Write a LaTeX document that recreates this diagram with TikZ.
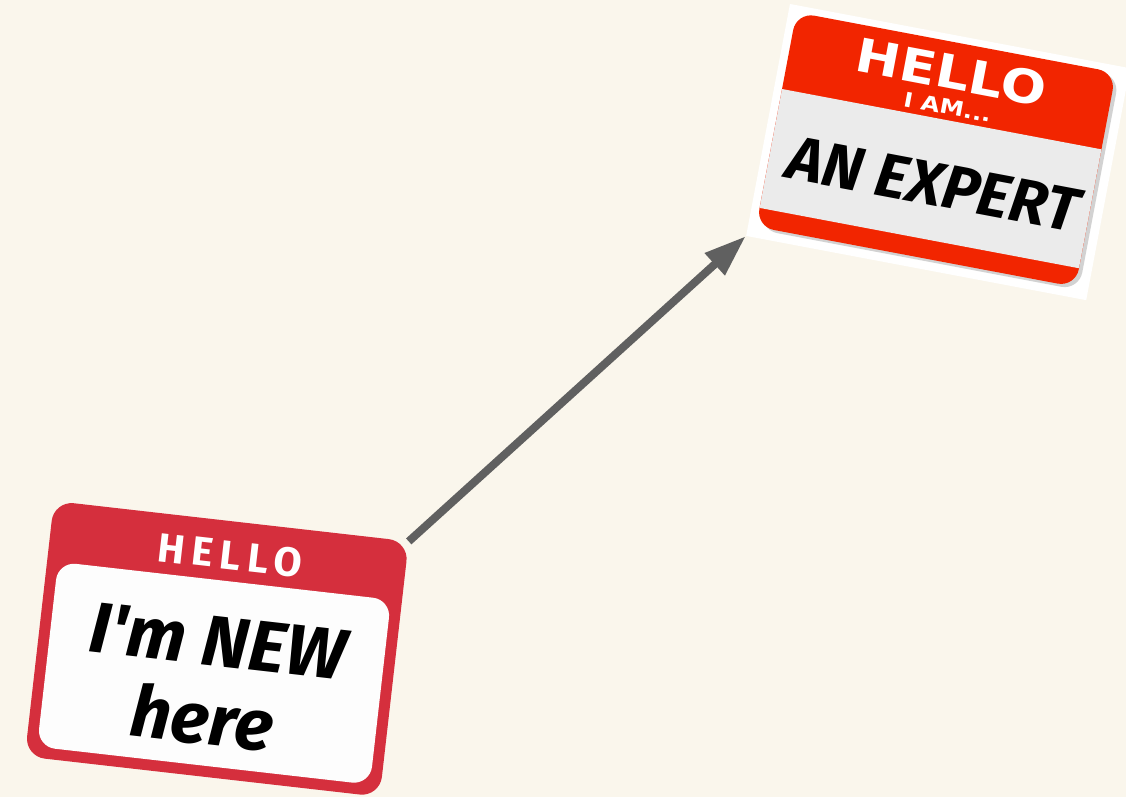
\documentclass[tikz,border=0pt]{standalone}
\usepackage{fontspec}
\usepackage{graphicx}
\usetikzlibrary{arrows.meta}
\newfontfamily\handfont{Fira Sans}
\newfontfamily\hellofont{Fira Sans}[LetterSpace=17]
\newfontfamily\blockfont{DejaVu Sans}
\definecolor{cream}{HTML}{FAF6EC}
\definecolor{newred}{HTML}{D52F3D}
\definecolor{expred}{HTML}{F22500}
\definecolor{tagwhite}{HTML}{FDFDFD}
\definecolor{taggray}{HTML}{EBEBEB}
\definecolor{slate}{HTML}{606060}
\pgfdeclarelayer{back}
\pgfsetlayers{back,main}
\tikzset{card/.style={rounded corners=0.5cm,inner sep=0,outer sep=0}, hand/.style={inner sep=0,font=\handfont\bfseries\itshape\fontsize{51}{51}\selectfont}, flow/.style={-{Triangle[length=1.05cm,width=0.7cm]},line width=0.2cm,draw=slate}}
\begin{document}
\begin{tikzpicture}[x=0.025cm,y=-0.025cm]
\useasboundingbox (0,0) rectangle (1126,797);
\begin{pgfonlayer}{back}\fill[cream] (0,0) rectangle (1126,797);\end{pgfonlayer}
\begin{scope}[shift={(54,501)},rotate=-6.5,transform shape]
\node[card,fill=newred,minimum width=8.925cm,minimum height=6.425cm] (new) at (178.5,128.5) {};
\node[card,rounded corners=0.45cm,fill=tagwhite,minimum width=8.375cm,minimum height=4.65cm] (newin) at (178.5,153) {};
\node[inner sep=0,text=white,font=\hellofont\bfseries\fontsize{29}{29}\selectfont] (newhello) at (181,34) {HELLO};
\node[hand] (newline1) at (179,121) {I'm NEW};
\node[hand] (newline2) at (172,198) {here};
\end{scope}
\begin{scope}[shift={(790,4)},rotate=-10.7,transform shape]
\node[fill=white,inner sep=0,minimum width=8.65cm,minimum height=5.9cm] (expbg) at (173,118) {};
\node[card,rounded corners=0.45cm,fill=black!35,opacity=.5,minimum width=8.125cm,minimum height=5.45cm] (expshadow) at (174.5,118.5) {};
\node[card,rounded corners=0.45cm,fill=expred,minimum width=8.125cm,minimum height=5.45cm] (exp) at (170.5,116) {};
\fill[taggray] (8,85) rectangle (333,206);
\node[inner sep=0,text=white,font=\blockfont\bfseries\fontsize{33}{33}\selectfont] (exphello) at (171,37) {\scalebox{1.15}[1]{HELLO}};
\node[inner sep=0,text=white,font=\blockfont\bfseries\fontsize{14.5}{14.5}\selectfont] (expiam) at (174,72) {\scalebox{1.2}[1]{I AM...}};
\node[hand,font=\handfont\bfseries\itshape\fontsize{44}{44}\selectfont] (expline) at (174,150) {AN EXPERT};
\end{scope}
\begin{pgfonlayer}{back}\draw[flow] (new.north east) -- (expbg.south west);\end{pgfonlayer}
\end{tikzpicture}
\end{document}
